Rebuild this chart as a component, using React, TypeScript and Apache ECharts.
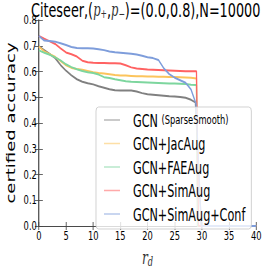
import React, { useEffect, useRef } from 'react';
import * as echarts from 'echarts';

// ---- data ----
const seriesNames = [
  'GCN (SparseSmooth)',
  'GCN+JacAug',
  'GCN+FAEAug',
  'GCN+SimAug',
  'GCN+SimAug+Conf',
];
const seriesColors = ['#808080', '#fcc45c', '#7dd69e', '#ff6262', '#7e9ddb'];

const rGray = [0,1,2,3,4,5,6,7,8,9,10,11,12,13,14,15,16,17,18,19,20,21,22,23,24,25,26,27,28,28.8,29.9,40];
const vGray = [0.697,0.683,0.668,0.652,0.625,0.603,0.585,0.570,0.560,0.554,0.550,0.543,0.537,0.531,0.527,0.526,0.526,0.526,0.522,0.516,0.512,0.510,0.508,0.506,0.504,0.503,0.501,0.498,0.490,0.480,0,0];

const rJac = [0,1,2,3,4,5,6,7,8,9,10,11,12,13,14,15,16,17,18,19,20,21,22,23,24,25,26,27,28,29,29.2,40];
const vJac = [0.697,0.678,0.667,0.657,0.640,0.624,0.614,0.610,0.607,0.602,0.597,0.594,0.592,0.589,0.586,0.584,0.584,0.583,0.582,0.582,0.581,0.581,0.580,0.580,0.579,0.579,0.578,0.577,0.576,0.573,0,0];

const rFae = [0,1,2,3,4,5,6,7,8,9,10,11,12,13,14,15,16,17,18,19,20,21,22,23,24,25,26,27,28,29,29.2,40];
const vFae = [0.682,0.673,0.665,0.655,0.643,0.628,0.617,0.609,0.602,0.597,0.594,0.588,0.578,0.575,0.570,0.566,0.562,0.560,0.559,0.558,0.557,0.556,0.555,0.554,0.553,0.553,0.552,0.551,0.549,0.548,0,0];

const rSim = [0,1,2,3,4,5,6,7,8,9,10,11,12,13,14,15,16,17,18,19,20,21,22,23,24,25,26,27,28,29,29.4,40];
const vSim = [0.738,0.727,0.717,0.707,0.690,0.674,0.667,0.658,0.642,0.636,0.634,0.633,0.633,0.632,0.632,0.631,0.624,0.616,0.612,0.610,0.608,0.607,0.606,0.605,0.604,0.603,0.602,0.601,0.601,0.601,0,0];

const rConf = [0,1,2,3,4,5,6,7,8,9,10,11,12,13,14,15,16,17,18,19,20,21,22,23,24,25,26,27,28,28.9,29.9,40];
const vConf = [0.738,0.720,0.718,0.716,0.710,0.703,0.695,0.691,0.690,0.690,0.689,0.686,0.683,0.678,0.675,0.673,0.671,0.669,0.666,0.661,0.655,0.652,0.645,0.612,0.590,0.576,0.566,0.556,0.530,0.476,0,0];

const seriesR = [rGray, rJac, rFae, rSim, rConf];
const seriesV = [vGray, vJac, vFae, vSim, vConf];

const xTicks = { min: 0, max: 40, interval: 5 };
const yTicks = { min: 0, max: 0.8, interval: 0.1 };

// horizontal squeeze of the whole figure
const S = 0.64;
const W = 266 / S;
const H = 273;
const px = (x: number) => x / S;

export default function App() {
  const ref = useRef<HTMLDivElement>(null);
  useEffect(() => {
    if (!ref.current) return;
    const chart = echarts.init(ref.current, undefined, { renderer: 'svg' });
    const font = 'DejaVu Sans';
    const axisCol = '#444';
    const baseX = {
      type: 'value' as const,
      min: xTicks.min,
      max: xTicks.max,
      interval: xTicks.interval,
      splitLine: { show: false },
      axisLine: { show: true, lineStyle: { color: axisCol, width: 1 } },
      axisTick: { show: true, inside: true, length: 4, lineStyle: { color: axisCol } },
    };
    const baseY = {
      type: 'value' as const,
      min: yTicks.min,
      max: yTicks.max,
      interval: yTicks.interval,
      splitLine: { show: false },
      axisLine: { show: true, lineStyle: { color: axisCol, width: 1 } },
      axisTick: { show: true, inside: true, length: px(4), lineStyle: { color: axisCol } },
    };
    chart.setOption({
      animation: false,
      title: {
        text: '{n|Citeseer,(}{m|p}{sb|+}{n|,}{m|p}{sb|−}{n|)=(0.0,0.8),N=10000}',
        left: px(31),
        top: 0,
        padding: 0,
        textStyle: {
          fontWeight: 'normal',
          rich: {
            n: { fontFamily: font, fontWeight: 'normal', fontSize: 20, color: '#000', lineHeight: 20 },
            m: { fontFamily: 'DejaVu Serif', fontStyle: 'italic', fontWeight: 'normal', fontSize: 18, color: '#333', lineHeight: 20 },
            sb: { fontFamily: font, fontWeight: 'normal', fontSize: 12, color: '#333', lineHeight: 13, verticalAlign: 'bottom' },
          },
        },
      },
      grid: { left: px(33), right: px(10), top: 20, bottom: 39, containLabel: false },
      xAxis: [
        {
          ...baseX,
          position: 'bottom',
          axisLabel: { fontFamily: font, fontSize: 13, color: '#000', margin: 3 },
          name: '{i|r}{s|d}',
          nameLocation: 'middle',
          nameGap: 20,
          nameTextStyle: {
            rich: {
              i: { fontFamily: 'DejaVu Serif', fontStyle: 'italic', fontSize: 19, color: '#333', lineHeight: 22 },
              s: { fontFamily: 'DejaVu Serif', fontStyle: 'italic', fontSize: 13, color: '#333', lineHeight: 16, verticalAlign: 'bottom' },
            },
          },
        },
        { ...baseX, position: 'top', axisLabel: { show: false } },
      ],
      yAxis: [
        {
          ...baseY,
          position: 'left',
          axisLabel: {
            fontFamily: font,
            fontSize: 13,
            color: '#000',
            margin: px(2),
            formatter: (v: number) => v.toFixed(1),
          },
          name: 'certified accuracy',
          nameLocation: 'middle',
          nameGap: px(18),
          nameTextStyle: { fontFamily: font, fontSize: 18, color: '#000' },
        },
        { ...baseY, position: 'right', axisLabel: { show: false } },
      ],
      legend: {
        orient: 'vertical',
        left: px(96),
        top: 107,
        icon: 'rect',
        itemWidth: px(16),
        itemHeight: 1.5,
        itemGap: 5.5,
        padding: [4, px(6), 6, px(8)],
        borderColor: '#c8c8c8',
        borderWidth: 1,
        borderRadius: 4,
        backgroundColor: 'rgba(255,255,255,0.8)',
        itemStyle: { opacity: 0.55 },
        data: seriesNames,
        formatter: (name: string) =>
          name === seriesNames[0] ? '{t|GCN }{s|(SparseSmooth)}' : '{t|' + name + '}',
        textStyle: {
          fontFamily: font,
          fontSize: 17.5,
          color: '#000',
          width: px(110),
          padding: [0, 0, 0, px(13) - 5],
          rich: {
            t: { fontFamily: font, fontSize: 17.5, color: '#000', lineHeight: 20 },
            s: { fontFamily: font, fontSize: 13, color: '#000', lineHeight: 20 },
          },
        },
      },
      series: seriesNames.map((name, i) => ({
        name,
        type: 'line',
        xAxisIndex: 0,
        yAxisIndex: 0,
        showSymbol: false,
        symbol: 'none',
        color: seriesColors[i],
        lineStyle: { color: seriesColors[i], width: 2 },
        data: seriesR[i].map((r, k) => [r, seriesV[i][k]]),
      })),
    });
    return () => chart.dispose();
  }, []);
  return (
    <div
      ref={ref}
      style={{
        position: 'fixed',
        left: 0,
        top: 0,
        width: W,
        height: H,
        transform: `scaleX(${S})`,
        transformOrigin: '0 0',
        background: '#fff',
      }}
    />
  );
}
